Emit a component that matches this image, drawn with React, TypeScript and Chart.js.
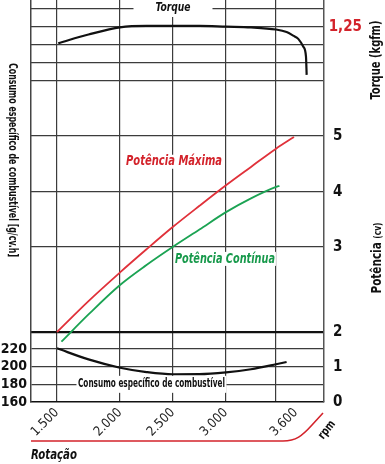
import React, { useEffect, useRef } from 'react';
import { Chart, registerables, LinearScale } from 'chart.js';

// ---------------- data ----------------
const rpmTicks = [1500, 2000, 2500, 3000, 3500, 3600];
const rpmTickLabels = ['1.500', '2.000', '2.500', '3.000', '', '3.600'];
const rpmGridLines = [1500, 2000, 2500, 3000, 3500];

const torqueRpm = [1510, 1750, 2000, 2250, 2500, 2750, 3000, 3250, 3500, 3553, 3586, 3613, 3642, 3657, 3661];
const torqueKgfm = [1.205, 1.229, 1.249, 1.253, 1.253, 1.253, 1.251, 1.249, 1.243, 1.236, 1.226, 1.217, 1.195, 1.168, 1.117];

const consumoRpm = [1500, 1750, 2000, 2250, 2500, 2750, 3000, 3250, 3500, 3553];
const consumoGcvh = [220.8, 208.2, 198.8, 193.9, 191.4, 191.5, 193.5, 197.1, 202.7, 205.3];

const maximaRpm = [1500, 1750, 2000, 2250, 2500, 2750, 3000, 3250, 3500, 3590];
const maximaCv = [2.0, 2.364, 2.701, 2.973, 3.367, 3.749, 4.12, 4.448, 4.773, 4.982];

const continuaRpm = [1535, 1750, 2000, 2250, 2500, 2750, 3000, 3250, 3500, 3517];
const continuaCv = [1.723, 2.207, 2.553, 2.788, 3.004, 3.318, 3.634, 3.884, 4.091, 4.11];

const potenciaTicks = [0, 1, 2, 3, 4, 5];
const consumoTicks = [160, 180, 200, 220];
const torqueTicks = [1.1, 1.15, 1.2, 1.25, 1.3];
const torqueLabelTicks = [1.25];

// --------------- styles ---------------
const NARROW = "'Liberation Sans Narrow', 'DejaVu Sans Condensed', 'Liberation Sans', sans-serif";
const RED = '#d3232b';
const GREEN = '#17994b';
const GRID = '#3c3c3c';
const INK = '#111111';

// piecewise axis: value -> fraction of the axis length (the drawing's uneven grid)
const SCALE_BREAKS: Record<string, number[][]> = {
  x: [[1294, 0], [1500, 0.0887], [2000, 0.3038], [2500, 0.4846], [3000, 0.6655], [3500, 0.8362], [3600, 0.9044], [3760, 1]],
  yP: [[0, 0], [1, 0.0871], [2, 0.1741], [3, 0.3856], [4, 0.5224], [5, 0.6617], [7.43, 1]],
};

class PiecewiseScale extends (LinearScale as any) {
  static id = 'piecewise';
  static defaults = {};
  bp(): number[][] {
    return SCALE_BREAKS[(this as any).id];
  }
  toDec(v: number) {
    const b = this.bp();
    let i = 1;
    while (i < b.length - 1 && v > b[i][0]) i++;
    const [v0, d0] = b[i - 1];
    const [v1, d1] = b[i];
    return d0 + ((v - v0) * (d1 - d0)) / (v1 - v0);
  }
  fromDec(d: number) {
    const b = this.bp();
    let i = 1;
    while (i < b.length - 1 && d > b[i][1]) i++;
    const [v0, d0] = b[i - 1];
    const [v1, d1] = b[i];
    return v0 + ((d - d0) * (v1 - v0)) / (d1 - d0);
  }
  getPixelForValue(value: number) {
    if (value === null || value === undefined || Number.isNaN(value)) return NaN;
    return (this as any).getPixelForDecimal(this.toDec(value));
  }
  getValueForPixel(pixel: number) {
    return this.fromDec((this as any).getDecimalForPixel(pixel));
  }
}

Chart.register(...registerables);
Chart.register(PiecewiseScale as any);

const pts = (xs: number[], ys: number[]) => xs.map((x, i) => ({ x, y: ys[i] }));

function drawLabel(ctx: CanvasRenderingContext2D, text: string, x: number, y: number, o: any) {
  ctx.save();
  ctx.translate(x, y);
  if (o.rotate) ctx.rotate(o.rotate);
  ctx.font = o.font;
  const m = ctx.measureText(text).width;
  const sx = o.width ? o.width / m : 1;
  const w = m * sx;
  const left = o.align === 'left' ? 0 : -w / 2;
  if (o.bg) {
    ctx.fillStyle = '#ffffff';
    ctx.fillRect(left - o.bg[0], -o.bg[1], w + 2 * o.bg[0], 2 * o.bg[1]);
  }
  ctx.scale(sx, 1);
  ctx.fillStyle = o.color;
  ctx.textAlign = 'left';
  ctx.textBaseline = 'middle';
  ctx.fillText(text, left / sx, 0);
  ctx.restore();
}

const decorations = {
  id: 'decorations',
  beforeDatasetsDraw(chart: any) {
    const { ctx, chartArea: a, scales } = chart;
    const sx = scales.x;
    const yP = scales.yP;
    const yC = scales.yC;
    const yT = scales.yT;

    // header "Torque"
    drawLabel(ctx, 'Torque', sx.getPixelForValue(2500), yT.getPixelForValue(1.3) - 1, {
      font: `italic bold 13px ${NARROW}`, color: INK, width: 35, bg: [22, 9],
    });
    // curve labels
    drawLabel(ctx, 'Potência Máxima', sx.getPixelForValue(2510), yP.getPixelForValue(4.54), {
      font: `italic bold 14px ${NARROW}`, color: RED, width: 96, bg: [1, 7],
    });
    drawLabel(ctx, 'Potência Contínua', sx.getPixelForValue(2990), yP.getPixelForValue(2.86), {
      font: `italic bold 14px ${NARROW}`, color: GREEN, width: 100, bg: [1, 7],
    });
    drawLabel(ctx, 'Consumo específico de combustível', sx.getPixelForValue(2297), yC.getPixelForValue(180), {
      font: `bold 12px ${NARROW}`, color: INK, width: 147, bg: [1.5, 8.5],
    });

    // axis titles
    drawLabel(ctx, 'Consumo específico de combustível [g/cv.h]', a.left - 19, a.top + 160, {
      font: `bold 13px ${NARROW}`, color: INK, width: 194, rotate: Math.PI / 2,
    });
    drawLabel(ctx, 'Torque (kgfm)', a.right + 52, a.top + 60, {
      font: `bold 14px ${NARROW}`, color: INK, width: 79, rotate: -Math.PI / 2,
    });

    // "Potência (cv)" with a smaller unit
    ctx.save();
    ctx.translate(a.right + 52, a.top + 258);
    ctx.rotate(-Math.PI / 2);
    ctx.fillStyle = INK;
    ctx.textBaseline = 'alphabetic';
    ctx.textAlign = 'left';
    ctx.font = `bold 14px ${NARROW}`;
    const w1 = ctx.measureText('Potência ').width;
    ctx.font = `bold 10px ${NARROW}`;
    const w2 = ctx.measureText('(cv)').width;
    const k = 71 / (w1 + w2);
    ctx.scale(k, 1);
    const start = -(w1 + w2) / 2;
    ctx.font = `bold 14px ${NARROW}`;
    ctx.fillText('Potência ', start, 5);
    ctx.font = `bold 10px ${NARROW}`;
    ctx.fillText('(cv)', start + w1, 5);
    ctx.restore();

    // rotation axis decoration
    drawLabel(ctx, 'Rotação', a.left, a.bottom + 53, {
      font: `italic bold 14px ${NARROW}`, color: INK, width: 46, align: 'left',
    });
    drawLabel(ctx, 'rpm', a.right + 3, a.bottom + 28, {
      font: `bold 12px ${NARROW}`, color: INK, width: 20, rotate: (-52 * Math.PI) / 180,
    });
    const y0 = a.bottom + 39;
    const R = a.right;
    ctx.save();
    ctx.strokeStyle = RED;
    ctx.lineWidth = 1.6;
    ctx.beginPath();
    ctx.moveTo(a.left, y0);
    ctx.lineTo(R - 41, y0);
    ctx.bezierCurveTo(R - 28, y0, R - 22, y0 - 5, R - 12, y0 - 16);
    ctx.lineTo(R - 1, y0 - 28);
    ctx.stroke();
    ctx.restore();
  },
};

const tickFont = { family: NARROW, size: 14, weight: 'bold' as const };

export default function App() {
  const ref = useRef<HTMLCanvasElement>(null);
  useEffect(() => {
    const chart = new Chart(ref.current as HTMLCanvasElement, {
      type: 'line',
      data: {
        datasets: [
          {
            label: 'Torque',
            data: pts(torqueRpm, torqueKgfm),
            yAxisID: 'yT',
            borderColor: INK,
            borderWidth: 2.2,
            pointRadius: 0,
            cubicInterpolationMode: 'monotone',
          },
          {
            label: 'Consumo específico de combustível',
            data: pts(consumoRpm, consumoGcvh),
            yAxisID: 'yC',
            borderColor: INK,
            borderWidth: 2.2,
            pointRadius: 0,
            cubicInterpolationMode: 'monotone',
          },
          {
            label: 'Potência Máxima',
            data: pts(maximaRpm, maximaCv),
            yAxisID: 'yP',
            borderColor: '#e0313a',
            borderWidth: 1.8,
            pointRadius: 0,
            cubicInterpolationMode: 'monotone',
          },
          {
            label: 'Potência Contínua',
            data: pts(continuaRpm, continuaCv),
            yAxisID: 'yP',
            borderColor: '#1ba353',
            borderWidth: 1.8,
            pointRadius: 0,
            cubicInterpolationMode: 'monotone',
          },
        ],
      },
      options: {
        animation: false,
        responsive: false,
        events: [],
        layout: { padding: 0 },
        plugins: { legend: { display: false }, tooltip: { enabled: false }, title: { display: false } },
        scales: {
          x: {
            type: 'piecewise' as any,
            position: 'bottom',
            min: 1294,
            max: 3760,
            afterBuildTicks: (s: any) => {
              s.ticks = rpmTicks.map((v) => ({ value: v }));
            },
            afterFit: (s: any) => {
              s.height = 62;
              s.paddingLeft = 0;
              s.paddingRight = 0;
            },
            grid: {
              drawTicks: false,
              lineWidth: 1.2,
              color: (c: any) => (c.tick && rpmGridLines.includes(c.tick.value) ? GRID : 'rgba(0,0,0,0)'),
            },
            border: { color: INK, width: 1.5 },
            ticks: {
              autoSkip: false,
              minRotation: 45,
              maxRotation: 45,
              padding: 3,
              color: '#222',
              font: { family: NARROW, size: 13 },
              callback: (v: any) => rpmTickLabels[rpmTicks.indexOf(Number(v))] ?? '',
            },
          },
          yC: {
            type: 'linear',
            position: 'left',
            min: 160,
            max: 615,
            afterBuildTicks: (s: any) => {
              s.ticks = consumoTicks.map((v) => ({ value: v }));
            },
            afterFit: (s: any) => {
              s.width = 31;
              s.paddingTop = 0;
              s.paddingBottom = 0;
            },
            grid: {
              drawTicks: false,
              lineWidth: 1.2,
              color: (c: any) => (c.tick && c.tick.value > 160 ? GRID : 'rgba(0,0,0,0)'),
            },
            border: { color: '#444', width: 1.5 },
            ticks: { padding: 4, color: INK, font: tickFont, callback: (v: any) => String(v) },
          },
          yT: {
            type: 'linear',
            position: 'right',
            weight: 0,
            min: 0.2083,
            max: 1.325,
            afterBuildTicks: (s: any) => {
              s.ticks = torqueTicks.map((v) => ({ value: v }));
            },
            afterFit: (s: any) => {
              s.width = 0;
              s.paddingTop = 0;
              s.paddingBottom = 0;
            },
            grid: { drawTicks: false, lineWidth: 1.2, color: GRID },
            border: { display: false },
            ticks: {
              mirror: true,
              padding: 38,
              color: RED,
              font: { family: NARROW, size: 15, weight: 'bold' },
              callback: (v: any) =>
                torqueLabelTicks.some((t) => Math.abs(t - Number(v)) < 1e-6) ? Number(v).toFixed(2).replace('.', ',') : '',
            },
          },
          yP: {
            type: 'piecewise' as any,
            position: 'right',
            weight: 1,
            min: 0,
            max: 7.43,
            afterBuildTicks: (s: any) => {
              s.ticks = potenciaTicks.map((v) => ({ value: v }));
            },
            afterFit: (s: any) => {
              s.width = 61;
              s.paddingTop = 0;
              s.paddingBottom = 0;
            },
            grid: {
              drawTicks: false,
              lineWidth: (c: any) => (c.tick && c.tick.value === 2 ? 2.2 : 1.2),
              color: (c: any) => {
                const v = c.tick ? c.tick.value : -1;
                if (v === 2) return INK;
                return v >= 3 ? GRID : 'rgba(0,0,0,0)';
              },
            },
            border: { color: '#555', width: 1.5 },
            ticks: { padding: 9, color: INK, font: { family: NARROW, size: 15, weight: 'bold' }, callback: (v: any) => String(v) },
          },
        } as any,
      },
      plugins: [decorations as any],
    } as any);
    return () => chart.destroy();
  }, []);

  return (
    <div style={{ position: 'absolute', left: 0, top: 0, width: 385, height: 464, background: '#fff' }}>
      <canvas ref={ref} width={385} height={464} style={{ display: 'block' }} />
    </div>
  );
}
